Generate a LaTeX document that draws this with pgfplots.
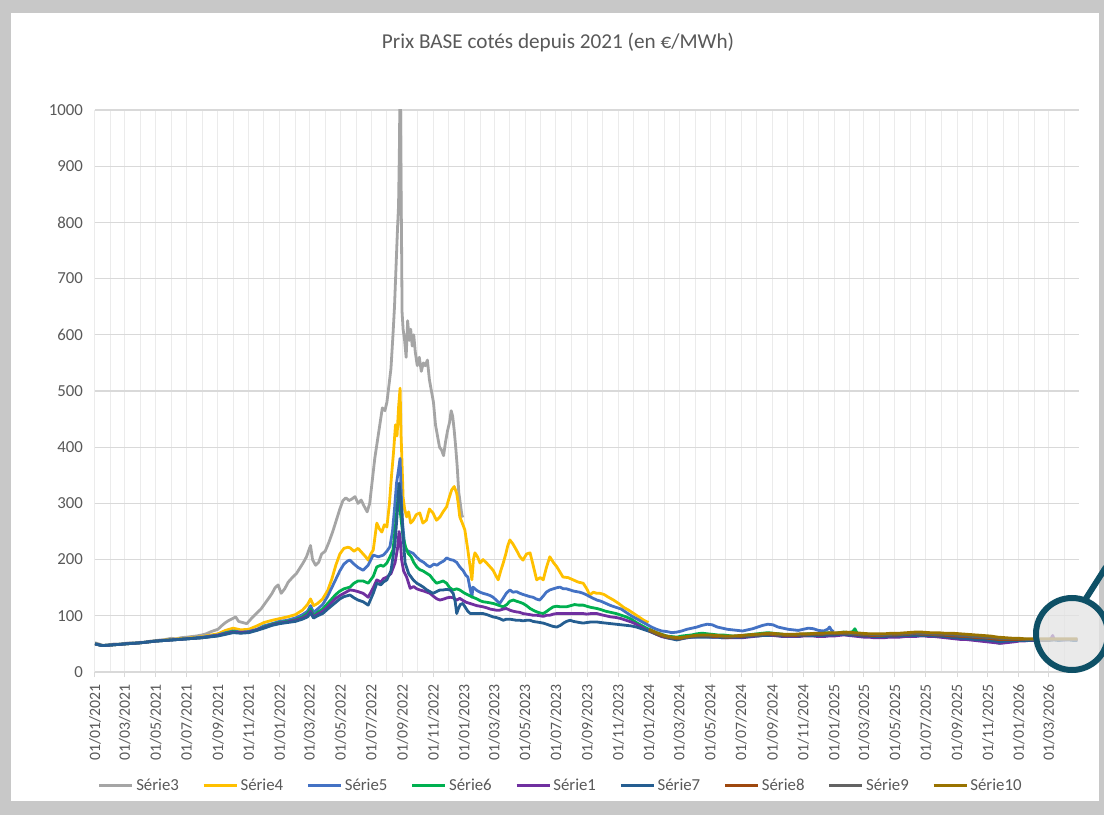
\documentclass[border=0pt]{standalone}
\usepackage{fontspec}
\setmainfont{Carlito}
\usepackage{pgfplots}
\pgfplotsset{compat=1.18}
\definecolor{s3}{HTML}{A5A5A5}
\definecolor{s4}{HTML}{FFC000}
\definecolor{s5}{HTML}{4472C4}
\definecolor{s6}{HTML}{00B050}
\definecolor{s1}{HTML}{7030A0}
\definecolor{s7}{HTML}{255E91}
\definecolor{s8}{HTML}{9E480E}
\definecolor{s9}{HTML}{636363}
\definecolor{s10}{HTML}{997300}
\definecolor{txtgray}{HTML}{595959}
\definecolor{gridh}{HTML}{D9D9D9}
\definecolor{gridv}{HTML}{EBEBEB}
\definecolor{framegray}{HTML}{C8C8C8}
\definecolor{lens}{RGB}{14,80,102}
\begin{document}
\begin{tikzpicture}
\fill[framegray] (0,0) rectangle (552pt,407.5pt);
\fill[white] (5.5pt,7pt) rectangle (549.5pt,401pt);
\node[font=\fontsize{10.6}{12}\selectfont, text=txtgray] at (279pt,386.5pt) {Prix BASE cotés depuis 2021 (en €/MWh)};
\begin{axis}[
  at={(47.5pt,71.5pt)}, anchor=south west,
  scale only axis, width=492pt, height=281pt,
  xmin=0, xmax=1945, ymin=0, ymax=1000,
  ytick={0,100,...,1000},
  xtick={0,59,120,181,243,304,365,424,485,546,608,669,730,789,850,911,973,1034,1095,1155,1216,1277,1339,1400,1461,1520,1581,1642,1704,1765,1826,1885},
  minor xtick={31,90,151,212,273,334,396,455,516,577,638,699,761,820,881,942,1003,1064,1126,1186,1247,1308,1369,1430,1492,1551,1612,1673,1734,1795,1857,1916},
  xticklabels={01/01/2021,01/03/2021,01/05/2021,01/07/2021,01/09/2021,01/11/2021,01/01/2022,01/03/2022,01/05/2022,01/07/2022,01/09/2022,01/11/2022,01/01/2023,01/03/2023,01/05/2023,01/07/2023,01/09/2023,01/11/2023,01/01/2024,01/03/2024,01/05/2024,01/07/2024,01/09/2024,01/11/2024,01/01/2025,01/03/2025,01/05/2025,01/07/2025,01/09/2025,01/11/2025,01/01/2026,01/03/2026},
  xticklabel style={rotate=90, anchor=east, font=\fontsize{7.9}{9}\selectfont, text=txtgray},
  yticklabel style={font=\fontsize{8.4}{9}\selectfont, text=txtgray},
  /pgf/number format/assume math mode=true,
  /pgf/number format/1000 sep={},
  scaled y ticks=false,
  grid=both,
  major x grid style={color=gridv, line width=0.5pt},
  minor x grid style={color=gridv, line width=0.5pt},
  major y grid style={color=gridh, line width=0.6pt},
  axis line style={draw=none},
  tick align=outside, xtick pos=bottom, ytick pos=left,
  major tick length=2.5pt, minor tick length=0pt,
  x tick style={color=gridh, line width=0.5pt},
  y tick style={draw=none},
  every axis plot/.append style={line width=1.4pt, line join=round, no marks},
  legend columns=9,
  legend cell align=left,
  legend style={draw=none, fill=none, at={(0.4736,-0.2025)}, anchor=center,
    font=\fontsize{8.4}{9}\selectfont, text=txtgray,
    nodes={inner xsep=1.2pt},
    /tikz/every even column/.append style={column sep=10.5pt}},
  legend image code/.code={\draw[#1, line width=1.4pt] (0pt,0pt) -- (16.5pt,0pt);},
]
% Serie3
\addplot[s3] coordinates {(0,52)(7,50)(14,48)(21,47)(31,49)(40,50)(50,49)(59,51)(70,52)(80,51)(90,53)(100,53)(110,55)(120,56)(130,57)(140,58)(151,60)(160,59)(170,61)(181,62)(190,63)(200,64)(212,66)(220,68)(230,72)(243,76)(250,82)(258,88)(265,92)(272,95)(278,98)(284,90)(292,88)(300,86)(304,90)(312,98)(320,105)(328,112)(336,122)(344,132)(350,140)(356,150)(362,155)(368,140)(375,148)(382,160)(390,168)(398,175)(405,185)(412,195)(418,205)(422,215)(426,225)(430,200)(436,190)(442,195)(448,210)(455,215)(462,230)(470,250)(477,270)(484,290)(490,305)(496,310)(502,305)(508,308)(514,312)(520,300)(526,306)(532,295)(538,285)(543,300)(548,340)(553,380)(558,410)(563,440)(568,470)(573,465)(577,480)(581,510)(585,540)(589,600)(592,650)(595,720)(598,790)(600,830)(602,950)(603,1100)(604,960)(606,760)(607,640)(609,610)(612,590)(615,560)(618,625)(621,590)(624,610)(627,580)(630,600)(633,570)(637,545)(641,560)(645,535)(649,550)(653,545)(657,555)(661,520)(665,500)(669,480)(673,440)(677,420)(681,400)(685,395)(689,385)(693,410)(697,430)(701,445)(704,465)(707,455)(710,430)(713,400)(716,365)(719,320)(722,300)(725,280)(727,275)};
\addlegendentry{Série3}
% Serie4
\addplot[s4] coordinates {(0,50)(14,47)(31,48)(59,50)(90,52)(120,55)(151,58)(181,60)(212,63)(243,68)(258,74)(273,78)(288,75)(304,76)(320,82)(334,88)(350,92)(365,95)(380,98)(396,102)(410,110)(420,120)(426,130)(432,118)(440,122)(450,130)(460,145)(468,165)(476,190)(484,210)(492,220)(500,222)(504,221)(512,215)(520,220)(528,212)(535,205)(540,199)(545,210)(550,217)(557,265)(562,255)(567,249)(572,262)(577,258)(582,300)(586,348)(590,390)(594,440)(597,420)(600,470)(603,505)(605,420)(606,395)(609,311)(612,290)(616,276)(620,285)(624,265)(629,270)(635,280)(642,283)(648,265)(655,270)(661,290)(668,283)(675,270)(682,276)(688,285)(695,294)(700,310)(705,324)(710,330)(715,318)(718,300)(721,276)(726,265)(731,253)(734,235)(737,217)(741,190)(745,164)(748,200)(751,212)(756,205)(761,194)(767,200)(774,194)(780,188)(787,181)(792,172)(797,164)(802,180)(807,194)(812,210)(816,225)(820,235)(826,228)(833,217)(840,205)(846,199)(853,210)(860,212)(866,190)(873,164)(880,168)(886,164)(892,185)(899,205)(906,195)(913,187)(919,178)(925,169)(935,168)(945,164)(955,160)(965,158)(972,148)(978,137)(985,142)(992,140)(998,140)(1006,138)(1015,133)(1025,128)(1035,122)(1045,115)(1055,110)(1065,104)(1075,98)(1085,92)(1094,88)};
\addlegendentry{Série4}
% Serie5
\addplot[s5] coordinates {(0,50)(14,47)(31,48)(59,50)(90,52)(120,55)(151,57)(181,59)(212,62)(243,66)(258,70)(273,73)(288,71)(304,72)(320,76)(334,82)(350,86)(365,90)(380,92)(396,96)(410,102)(420,108)(426,118)(432,106)(440,112)(450,120)(460,135)(468,150)(476,165)(484,180)(492,192)(500,198)(504,199)(512,192)(520,186)(530,181)(540,190)(550,208)(560,205)(570,208)(577,215)(583,223)(588,250)(592,290)(596,336)(600,360)(603,380)(606,300)(608,265)(611,235)(613,217)(620,215)(629,211)(635,205)(642,199)(650,195)(656,190)(662,187)(670,192)(676,190)(682,194)(690,198)(695,203)(702,200)(708,199)(715,195)(721,187)(728,180)(733,172)(737,169)(741,150)(745,133)(747,151)(755,145)(761,142)(767,140)(775,138)(781,136)(787,133)(793,128)(800,122)(806,130)(813,140)(820,146)(826,142)(833,143)(840,140)(846,138)(853,136)(860,134)(866,133)(872,130)(879,128)(886,135)(892,142)(899,146)(906,148)(913,150)(919,151)(926,148)(932,148)(939,146)(946,144)(952,143)(958,142)(965,140)(972,137)(978,134)(985,131)(992,128)(1000,126)(1010,122)(1020,118)(1030,115)(1040,112)(1050,106)(1060,100)(1070,95)(1080,90)(1090,85)(1100,80)(1110,76)(1120,73)(1130,72)(1140,70)(1150,71)(1160,73)(1170,76)(1180,78)(1190,80)(1200,83)(1210,85)(1220,84)(1230,80)(1240,78)(1250,76)(1260,75)(1270,74)(1280,73)(1290,75)(1300,77)(1310,80)(1320,83)(1330,85)(1340,84)(1350,80)(1360,78)(1370,76)(1380,75)(1390,74)(1400,76)(1410,78)(1420,77)(1430,74)(1440,73)(1448,76)(1452,80)(1456,74)(1460,72)};
\addlegendentry{Série5}
% Serie6
\addplot[s6] coordinates {(0,50)(14,47)(31,48)(59,50)(90,52)(120,55)(151,57)(181,59)(212,61)(243,65)(258,69)(273,72)(288,70)(304,71)(320,75)(334,80)(350,85)(365,88)(380,90)(396,93)(410,98)(420,104)(426,112)(432,100)(440,106)(450,112)(460,122)(468,130)(476,138)(484,144)(492,148)(500,150)(504,151)(512,158)(520,162)(530,162)(540,158)(550,170)(557,187)(565,190)(570,188)(577,194)(583,205)(589,217)(594,260)(598,300)(601,330)(604,280)(609,240)(614,222)(619,211)(625,205)(630,195)(636,187)(642,182)(648,180)(655,176)(662,172)(668,165)(675,158)(682,160)(688,162)(695,158)(701,150)(708,146)(715,148)(721,146)(726,143)(731,140)(740,136)(747,133)(755,130)(761,127)(767,125)(775,124)(781,123)(787,122)(794,120)(800,118)(807,116)(814,120)(820,126)(827,128)(833,126)(840,124)(846,122)(853,118)(860,113)(866,110)(873,107)(880,105)(886,104)(893,108)(899,112)(906,116)(913,117)(920,116)(926,116)(932,116)(940,118)(948,120)(956,119)(965,119)(972,117)(980,115)(986,114)(992,113)(1000,111)(1010,108)(1020,106)(1030,104)(1040,101)(1050,98)(1060,94)(1070,88)(1080,83)(1090,78)(1100,74)(1110,70)(1120,67)(1130,64)(1140,63)(1150,62)(1160,64)(1170,65)(1180,66)(1190,68)(1200,69)(1210,68)(1220,67)(1230,66)(1240,66)(1250,65)(1260,64)(1270,64)(1280,65)(1290,66)(1300,67)(1310,68)(1320,69)(1330,70)(1340,69)(1350,68)(1360,67)(1370,66)(1380,66)(1390,66)(1400,67)(1410,68)(1420,68)(1430,68)(1440,69)(1450,70)(1461,68)(1470,70)(1480,71)(1490,70)(1498,72)(1502,77)(1506,70)(1512,67)(1520,66)(1530,65)(1540,64)(1550,64)(1560,65)(1570,66)(1580,66)(1590,67)(1600,67)(1610,68)(1620,68)(1630,68)(1640,67)(1650,67)(1660,66)(1670,66)(1680,65)(1690,64)(1700,63)(1710,62)(1720,61)(1730,60)(1740,58)(1750,57)(1760,56)(1770,55)(1780,53)(1788,51)(1795,53)(1805,55)(1815,56)(1825,57)};
\addlegendentry{Série6}
% Serie1
\addplot[s1] coordinates {(0,50)(14,47)(31,48)(59,50)(90,52)(120,55)(151,57)(181,59)(212,61)(243,65)(258,68)(273,71)(288,70)(304,71)(320,75)(334,79)(350,84)(365,87)(380,89)(396,92)(410,96)(420,101)(426,108)(432,98)(440,103)(450,108)(460,116)(468,124)(476,131)(484,136)(492,140)(500,144)(504,146)(512,145)(520,143)(530,140)(540,133)(550,150)(557,164)(565,160)(570,166)(577,169)(585,175)(593,194)(598,220)(601,250)(603,240)(606,200)(610,180)(616,169)(623,149)(630,152)(636,148)(642,146)(650,144)(656,142)(662,140)(670,134)(676,130)(682,128)(690,130)(696,132)(702,133)(708,132)(715,128)(721,131)(728,127)(734,124)(741,122)(748,120)(755,118)(761,117)(767,116)(775,114)(781,112)(787,111)(793,110)(800,110)(807,112)(813,113)(820,110)(827,108)(833,107)(840,106)(846,104)(853,103)(860,102)(866,101)(873,101)(880,100)(886,99)(893,101)(899,101)(906,103)(913,104)(920,104)(926,104)(932,104)(940,104)(948,104)(956,104)(965,104)(972,103)(980,104)(986,104)(992,104)(1000,102)(1010,100)(1020,98)(1030,97)(1040,95)(1050,92)(1060,89)(1070,85)(1080,80)(1090,75)(1100,71)(1110,67)(1120,63)(1130,61)(1140,60)(1150,58)(1160,60)(1170,61)(1180,62)(1190,63)(1200,63)(1210,63)(1220,62)(1230,62)(1240,61)(1250,61)(1260,61)(1270,61)(1280,61)(1290,62)(1300,63)(1310,64)(1320,65)(1330,65)(1340,65)(1350,64)(1360,63)(1370,63)(1380,63)(1390,63)(1400,64)(1410,64)(1420,64)(1430,63)(1440,63)(1450,64)(1461,64)(1470,65)(1480,66)(1490,65)(1500,64)(1510,63)(1520,62)(1530,62)(1540,61)(1550,61)(1560,61)(1570,62)(1580,62)(1590,62)(1600,63)(1610,63)(1620,63)(1630,64)(1640,64)(1650,63)(1660,63)(1670,62)(1680,61)(1690,60)(1700,59)(1710,58)(1720,58)(1730,57)(1740,56)(1750,55)(1760,54)(1770,53)(1780,52)(1790,51)(1800,52)(1810,53)(1820,54)(1826,55)(1835,55)(1845,56)(1855,56)(1865,57)(1875,56)(1885,57)(1890,60)(1893,65)(1896,58)(1905,57)(1915,57)(1925,58)(1935,57)(1942,57)};
\addlegendentry{Série1}
% Serie7
\addplot[s7] coordinates {(0,50)(14,47)(31,48)(59,50)(90,52)(120,55)(151,57)(181,59)(212,61)(243,64)(258,67)(273,70)(288,69)(304,70)(320,74)(334,78)(350,83)(365,86)(380,88)(396,90)(410,94)(420,98)(426,105)(432,96)(440,100)(450,104)(460,112)(468,118)(476,124)(484,130)(492,134)(500,136)(504,137)(512,132)(520,128)(530,125)(540,119)(550,140)(557,158)(565,155)(570,160)(577,164)(585,180)(593,229)(598,290)(601,336)(603,320)(606,290)(609,240)(613,194)(620,175)(629,164)(636,158)(642,155)(649,151)(656,146)(662,143)(668,140)(675,143)(682,146)(688,146)(695,147)(702,146)(708,140)(712,125)(715,104)(718,112)(722,120)(727,122)(732,115)(737,108)(742,104)(747,104)(755,104)(761,104)(767,104)(775,102)(781,100)(787,98)(793,97)(800,95)(807,92)(813,94)(820,94)(827,93)(833,92)(840,92)(846,91)(853,92)(860,92)(866,90)(873,89)(880,88)(886,87)(893,85)(899,83)(906,81)(913,80)(920,83)(926,87)(932,90)(939,92)(946,90)(952,89)(958,88)(965,87)(972,88)(980,89)(986,89)(992,89)(1000,88)(1010,87)(1020,86)(1030,85)(1040,84)(1050,83)(1060,82)(1070,80)(1080,77)(1090,74)(1100,71)(1110,67)(1120,64)(1130,61)(1140,59)(1150,57)(1160,59)(1170,61)(1180,62)(1190,62)(1200,62)(1210,62)(1220,62)(1230,62)(1240,61)(1250,61)(1260,62)(1270,62)(1280,62)(1290,63)(1300,64)(1310,64)(1320,65)(1330,65)(1340,66)(1350,65)(1360,64)(1370,64)(1380,64)(1390,64)(1400,65)(1410,65)(1420,65)(1430,65)(1440,65)(1450,66)(1461,66)(1470,67)(1480,67)(1490,66)(1500,66)(1510,65)(1520,64)(1530,64)(1540,63)(1550,63)(1560,63)(1570,64)(1580,64)(1590,64)(1600,65)(1610,65)(1620,65)(1630,65)(1640,65)(1650,65)(1660,64)(1670,64)(1680,63)(1690,62)(1700,61)(1710,60)(1720,60)(1730,59)(1740,58)(1750,58)(1760,57)(1770,56)(1780,55)(1790,54)(1800,55)(1810,55)(1820,56)(1826,56)(1835,56)(1845,56)(1855,57)(1865,57)(1875,56)(1885,56)(1895,57)(1905,56)(1915,57)(1925,57)(1935,56)(1942,56)};
\addlegendentry{Série7}
% Serie8
\addplot[s8] coordinates {(1095,74)(1105,70)(1115,66)(1125,63)(1135,61)(1145,60)(1155,59)(1165,61)(1175,63)(1185,64)(1195,64)(1205,64)(1215,64)(1225,63)(1235,63)(1245,62)(1255,62)(1265,63)(1275,63)(1285,64)(1295,65)(1305,66)(1315,66)(1325,67)(1335,67)(1345,66)(1355,66)(1365,65)(1375,65)(1385,65)(1395,66)(1405,66)(1415,67)(1425,67)(1435,67)(1445,68)(1455,68)(1465,68)(1475,69)(1485,68)(1495,68)(1505,67)(1515,66)(1525,66)(1535,65)(1545,65)(1555,65)(1565,66)(1575,66)(1585,66)(1595,67)(1605,67)(1615,68)(1625,68)(1635,67)(1645,67)(1655,67)(1665,66)(1675,66)(1685,65)(1695,64)(1705,64)(1715,63)(1725,63)(1735,62)(1745,61)(1755,61)(1765,60)(1775,59)(1785,58)(1795,58)(1805,58)(1815,58)(1826,58)(1840,58)(1855,58)(1870,57)(1885,57)(1900,58)(1915,58)(1930,58)(1942,58)};
\addlegendentry{Série8}
% Serie9
\addplot[s9] coordinates {(1095,75)(1110,69)(1125,64)(1140,61)(1155,60)(1170,62)(1185,64)(1200,65)(1215,65)(1230,64)(1245,63)(1260,63)(1275,64)(1290,65)(1305,66)(1320,67)(1335,68)(1350,67)(1365,66)(1380,66)(1395,67)(1410,67)(1425,68)(1440,68)(1455,69)(1470,69)(1485,69)(1500,68)(1515,67)(1530,67)(1545,66)(1560,66)(1575,67)(1590,67)(1605,68)(1620,69)(1635,68)(1650,68)(1665,67)(1680,67)(1695,66)(1710,65)(1725,64)(1740,63)(1755,62)(1770,61)(1785,60)(1800,59)(1815,59)(1826,59)(1840,58)(1855,58)(1870,58)(1885,58)(1900,58)(1915,58)(1930,58)(1942,58)};
\addlegendentry{Série9}
% Serie10
\addplot[s10] coordinates {(1095,76)(1110,70)(1125,65)(1140,62)(1155,61)(1170,63)(1185,65)(1200,66)(1215,66)(1230,65)(1245,64)(1260,64)(1275,65)(1290,66)(1305,67)(1320,68)(1335,69)(1350,68)(1365,67)(1380,67)(1395,68)(1410,68)(1425,69)(1440,69)(1455,70)(1470,70)(1485,71)(1500,70)(1515,69)(1530,68)(1545,68)(1560,68)(1575,69)(1590,69)(1605,70)(1620,71)(1635,71)(1650,70)(1665,70)(1680,69)(1695,69)(1710,68)(1725,67)(1740,66)(1755,65)(1770,64)(1785,62)(1800,61)(1815,60)(1826,60)(1840,59)(1855,59)(1870,59)(1885,59)(1900,59)(1915,59)(1930,59)(1942,59)};
\addlegendentry{Série10}
\end{axis}
\draw[lens, line width=3pt, fill=gray!22, fill opacity=0.75] (536pt,90.5pt) circle (18pt);
\draw[lens, line width=3pt] (542.5pt,107.5pt) -- (553pt,124pt);
\pgfresetboundingbox
\useasboundingbox (0,0) rectangle (552pt,407.5pt);
\end{tikzpicture}
\end{document}
